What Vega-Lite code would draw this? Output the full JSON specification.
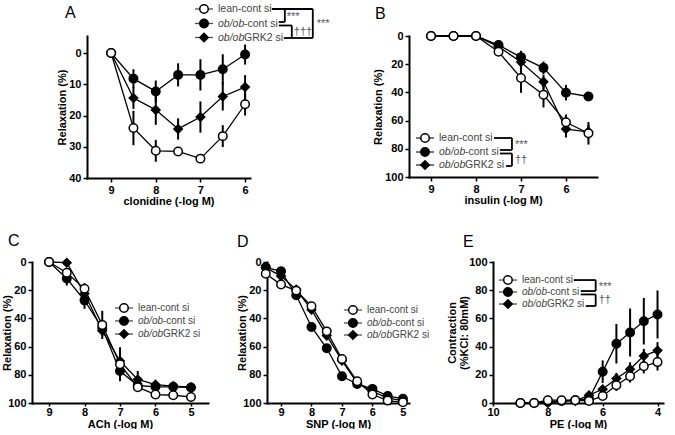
{
"$schema": "https://vega.github.io/schema/vega-lite/v6.json",
"background": "white",
"padding": {"left": 1, "top": 1, "right": 0, "bottom": 0},
"spacing": 14,
"datasets": {
"A": [
{"g":"grk","x":9,"y":0,"e":0},{"g":"grk","x":8.5,"y":14.4,"e":3.5},{"g":"grk","x":8,"y":18.2,"e":4.8},{"g":"grk","x":7.5,"y":24.3,"e":3.4},{"g":"grk","x":7,"y":20.5,"e":5},{"g":"grk","x":6.5,"y":13.9,"e":4.5},{"g":"grk","x":6,"y":10.9,"e":3.8},
{"g":"ob","x":9,"y":0,"e":0},{"g":"ob","x":8.5,"y":8.2,"e":3},{"g":"ob","x":8,"y":12.3,"e":3.5},{"g":"ob","x":7.5,"y":7,"e":3.7},{"g":"ob","x":7,"y":7,"e":5},{"g":"ob","x":6.5,"y":5.2,"e":4.8},{"g":"ob","x":6,"y":0.5,"e":3.2},
{"g":"lean","x":9,"y":0,"e":0},{"g":"lean","x":8.5,"y":24,"e":5.5},{"g":"lean","x":8,"y":31.3,"e":3.5},{"g":"lean","x":7.5,"y":31.5,"e":1},{"g":"lean","x":7,"y":33.8,"e":1},{"g":"lean","x":6.5,"y":26.6,"e":3.5},{"g":"lean","x":6,"y":16.4,"e":3.6}
],
"A_leg": [
{"g":"lean","x":6.92,"y":-14.08,"t1":"lean-cont si","t2":"","t3":""},
{"g":"ob","x":6.92,"y":-9.44,"t1":"","t2":"ob/ob","t3":"-cont si"},
{"g":"grk","x":6.92,"y":-4.96,"t1":"","t2":"ob/ob","t3":"GRK2 si"}
],
"A_br": [
{"x":5.401,"x2":4.484,"y":-14.08,"y2":-14.08},
{"x":4.484,"x2":4.484,"y":-14.08,"y2":-4.8},
{"x":5.133,"x2":4.484,"y":-4.8,"y2":-4.8},
{"x":5.110,"x2":5.110,"y":-14.08,"y2":-9.92},
{"x":5.245,"x2":5.110,"y":-9.92,"y2":-9.92},
{"x":5.245,"x2":4.954,"y":-8.8,"y2":-8.8},
{"x":4.954,"x2":4.954,"y":-8.8,"y2":-4.8}
],
"A_st": [
{"x":5.066,"y":-11.68,"t":"***"},
{"x":4.395,"y":-9.28,"t":"***"},
{"x":4.909,"y":-6.72,"t":"†††"}
],
"B": [
{"g":"grk","x":9,"y":0,"e":0},{"g":"grk","x":8.5,"y":0,"e":0},{"g":"grk","x":8,"y":0,"e":0},{"g":"grk","x":7.5,"y":7.5,"e":2},{"g":"grk","x":7,"y":18.5,"e":4},{"g":"grk","x":6.5,"y":32.5,"e":5},{"g":"grk","x":6,"y":66,"e":6},{"g":"grk","x":5.5,"y":68,"e":5},
{"g":"ob","x":9,"y":0,"e":0},{"g":"ob","x":8.5,"y":0,"e":0},{"g":"ob","x":8,"y":0,"e":0},{"g":"ob","x":7.5,"y":6.4,"e":2},{"g":"ob","x":7,"y":15,"e":4.5},{"g":"ob","x":6.5,"y":22.6,"e":4.5},{"g":"ob","x":6,"y":40.2,"e":5.5},{"g":"ob","x":5.5,"y":42.9,"e":3},
{"g":"lean","x":9,"y":0,"e":0},{"g":"lean","x":8.5,"y":0,"e":0},{"g":"lean","x":8,"y":0,"e":0},{"g":"lean","x":7.5,"y":11.2,"e":2},{"g":"lean","x":7,"y":29.8,"e":10.5},{"g":"lean","x":6.5,"y":41.7,"e":9},{"g":"lean","x":6,"y":61.2,"e":5.5},{"g":"lean","x":5.5,"y":69,"e":8}
],
"B_leg": [
{"g":"lean","x":9.134,"y":72.34,"t1":"lean-cont si","t2":"","t3":""},
{"g":"ob","x":9.134,"y":82.27,"t1":"","t2":"ob/ob","t3":"-cont si"},
{"g":"grk","x":9.134,"y":91.49,"t1":"","t2":"ob/ob","t3":"GRK2 si"}
],
"B_br": [
{"x":7.601,"x2":7.201,"y":72.34,"y2":72.34},
{"x":7.201,"x2":7.201,"y":72.34,"y2":80.85},
{"x":7.468,"x2":7.201,"y":80.85,"y2":80.85},
{"x":7.468,"x2":7.201,"y":83.33,"y2":83.33},
{"x":7.201,"x2":7.201,"y":83.33,"y2":92.2},
{"x":7.334,"x2":7.201,"y":92.2,"y2":92.2}
],
"B_st": [
{"x":7.134,"y":77.3,"t":"***"},
{"x":7.134,"y":87.94,"t":"††"}
],
"C": [
{"g":"grk","x":9,"y":0,"e":0},{"g":"grk","x":8.5,"y":0.5,"e":1},{"g":"grk","x":8,"y":22.4,"e":3},{"g":"grk","x":7.5,"y":48.7,"e":4},{"g":"grk","x":7,"y":70.2,"e":5},{"g":"grk","x":6.5,"y":83.3,"e":6},{"g":"grk","x":6,"y":87,"e":2},{"g":"grk","x":5.5,"y":88,"e":2},{"g":"grk","x":5,"y":88.8,"e":2},
{"g":"ob","x":9,"y":0,"e":0},{"g":"ob","x":8.5,"y":11.7,"e":5},{"g":"ob","x":8,"y":27.2,"e":6},{"g":"ob","x":7.5,"y":47,"e":5},{"g":"ob","x":7,"y":77.3,"e":4},{"g":"ob","x":6.5,"y":87.6,"e":3},{"g":"ob","x":6,"y":88.5,"e":2},{"g":"ob","x":5.5,"y":88.5,"e":2},{"g":"ob","x":5,"y":89,"e":2},
{"g":"lean","x":9,"y":0,"e":0},{"g":"lean","x":8.5,"y":7.6,"e":3},{"g":"lean","x":8,"y":19,"e":4},{"g":"lean","x":7.5,"y":44.6,"e":10},{"g":"lean","x":7,"y":72.5,"e":12},{"g":"lean","x":6.5,"y":88.8,"e":3},{"g":"lean","x":6,"y":94,"e":2},{"g":"lean","x":5.5,"y":94.5,"e":2},{"g":"lean","x":5,"y":95.7,"e":2}
],
"C_leg": [
{"g":"lean","x":6.888,"y":32.6,"t1":"lean-cont si","t2":"","t3":""},
{"g":"ob","x":6.888,"y":41.8,"t1":"","t2":"ob/ob","t3":"-cont si"},
{"g":"grk","x":6.888,"y":51.1,"t1":"","t2":"ob/ob","t3":"GRK2 si"}
],
"D": [
{"g":"grk","x":9.5,"y":4,"e":1},{"g":"grk","x":9,"y":10,"e":2},{"g":"grk","x":8.5,"y":19.6,"e":2},{"g":"grk","x":8,"y":33.8,"e":2},{"g":"grk","x":7.5,"y":52.2,"e":2},{"g":"grk","x":7,"y":70,"e":2},{"g":"grk","x":6.5,"y":85.8,"e":2},{"g":"grk","x":6,"y":91.7,"e":1},{"g":"grk","x":5.5,"y":96.5,"e":1},{"g":"grk","x":5,"y":98.3,"e":1},
{"g":"ob","x":9.5,"y":3.8,"e":1},{"g":"ob","x":9,"y":6.6,"e":2},{"g":"ob","x":8.5,"y":23.6,"e":2},{"g":"ob","x":8,"y":46.1,"e":2},{"g":"ob","x":7.5,"y":61.2,"e":2},{"g":"ob","x":7,"y":81,"e":2},{"g":"ob","x":6.5,"y":86.5,"e":2},{"g":"ob","x":6,"y":90,"e":1},{"g":"ob","x":5.5,"y":95,"e":1},{"g":"ob","x":5,"y":97,"e":1},
{"g":"lean","x":9.5,"y":8.3,"e":1},{"g":"lean","x":9,"y":16,"e":2},{"g":"lean","x":8.5,"y":20.3,"e":2},{"g":"lean","x":8,"y":31.4,"e":2},{"g":"lean","x":7.5,"y":49.2,"e":2},{"g":"lean","x":7,"y":68.8,"e":2},{"g":"lean","x":6.5,"y":84.6,"e":2},{"g":"lean","x":6,"y":94,"e":1},{"g":"lean","x":5.5,"y":98.3,"e":1},{"g":"lean","x":5,"y":99.5,"e":1}
],
"D_leg": [
{"g":"lean","x":6.64,"y":34.04,"t1":"lean-cont si","t2":"","t3":""},
{"g":"ob","x":6.64,"y":43.26,"t1":"","t2":"ob/ob","t3":"-cont si"},
{"g":"grk","x":6.64,"y":51.77,"t1":"","t2":"ob/ob","t3":"GRK2 si"}
],
"E": [
{"g":"grk","x":9,"y":0,"e":0},{"g":"grk","x":8.5,"y":0,"e":0},{"g":"grk","x":8,"y":0,"e":0},{"g":"grk","x":7.5,"y":1.4,"e":0.5},{"g":"grk","x":7,"y":1.5,"e":0.5},{"g":"grk","x":6.5,"y":5.5,"e":1.5},{"g":"grk","x":6,"y":9.8,"e":3},{"g":"grk","x":5.5,"y":17.4,"e":4},{"g":"grk","x":5,"y":23.9,"e":5},{"g":"grk","x":4.5,"y":33.4,"e":5},{"g":"grk","x":4,"y":37.2,"e":6},
{"g":"ob","x":9,"y":0,"e":0},{"g":"ob","x":8.5,"y":0,"e":0},{"g":"ob","x":8,"y":1,"e":0.5},{"g":"ob","x":7.5,"y":1.5,"e":0.5},{"g":"ob","x":7,"y":2,"e":0.5},{"g":"ob","x":6.5,"y":3,"e":1},{"g":"ob","x":6,"y":22.2,"e":8},{"g":"ob","x":5.5,"y":42,"e":14},{"g":"ob","x":5,"y":50,"e":17},{"g":"ob","x":4.5,"y":58,"e":16.5},{"g":"ob","x":4,"y":62.8,"e":17},
{"g":"lean","x":9,"y":0,"e":0},{"g":"lean","x":8.5,"y":0,"e":0},{"g":"lean","x":8,"y":2,"e":0.5},{"g":"lean","x":7.5,"y":2,"e":0.5},{"g":"lean","x":7,"y":2,"e":0.5},{"g":"lean","x":6.5,"y":1.4,"e":0.5},{"g":"lean","x":6,"y":5,"e":2},{"g":"lean","x":5.5,"y":12.6,"e":4},{"g":"lean","x":5,"y":19,"e":4.5},{"g":"lean","x":4.5,"y":26,"e":5},{"g":"lean","x":4,"y":29,"e":6}
],
"E_leg": [
{"g":"lean","x":9.455,"y":87.2,"t1":"lean-cont si","t2":"","t3":""},
{"g":"ob","x":9.455,"y":78.7,"t1":"","t2":"ob/ob","t3":"-cont si"},
{"g":"grk","x":9.455,"y":70.2,"t1":"","t2":"ob/ob","t3":"GRK2 si"}
],
"E_br": [
{"x":7.055,"x2":6.255,"y":87.2,"y2":87.2},
{"x":6.255,"x2":6.255,"y":87.2,"y2":79.4},
{"x":6.8,"x2":6.255,"y":79.4,"y2":79.4},
{"x":6.8,"x2":6.255,"y":77.0,"y2":77.0},
{"x":6.255,"x2":6.255,"y":77.0,"y2":68.8},
{"x":6.618,"x2":6.255,"y":68.8,"y2":68.8}
],
"E_st": [
{"x":6.145,"y":82.3,"t":"***"},
{"x":6.145,"y":73.0,"t":"††"}
]
},
"vconcat": [
{"spacing": 10, "bounds": "flush", "hconcat": [
{"width": 45, "height": 182, "data": {"values": [{}]}, "mark": {"type": "rect", "opacity": 0}},
{
"width": 163, "height": 142,
"title": {"text": "A", "anchor": "start", "frame": "group", "dx": -22, "offset": -19, "fontSize": 16, "fontWeight": "normal"},
"layer": [
{"data": {"name": "A"}, "mark": {"type": "errorbar", "color": "black", "thickness": 2},
 "encoding": {
  "x": {"field": "x", "type": "quantitative", "scale": {"domain": [5.89, 9.54], "reverse": true, "nice": false, "zero": false}, "axis": {"values": [9, 8, 7, 6], "tickCount": 20, "format": "d", "title": "clonidine (-log M)", "titlePadding": 0}},
  "y": {"field": "y", "type": "quantitative", "scale": {"domain": [-5.44, 40], "reverse": true, "nice": false, "zero": false}, "axis": {"values": [0, 10, 20, 30, 40], "tickCount": 20, "format": "d", "title": "Relaxation (%)", "titlePadding": 1}},
  "yError": {"field": "e"}}},
{"data": {"name": "A"}, "mark": {"type": "line", "color": "black", "strokeWidth": 1.3},
 "encoding": {"x": {"field": "x", "type": "quantitative"}, "y": {"field": "y", "type": "quantitative"}, "detail": {"field": "g"}}},
{"data": {"name": "A"}, "mark": {"type": "point", "filled": true, "opacity": 1, "stroke": "black", "strokeWidth": 1.5},
 "encoding": {"x": {"field": "x", "type": "quantitative"}, "y": {"field": "y", "type": "quantitative"},
  "shape": {"field": "g", "type": "nominal", "scale": {"domain": ["lean", "ob", "grk"], "range": ["circle", "circle", "diamond"]}, "legend": null},
  "fill": {"field": "g", "type": "nominal", "scale": {"domain": ["lean", "ob", "grk"], "range": ["white", "black", "black"]}, "legend": null},
  "size": {"field": "g", "type": "nominal", "scale": {"domain": ["lean", "ob", "grk"], "range": [72, 72, 55]}, "legend": null}}},
{"data": {"name": "A_leg"}, "mark": {"type": "tick", "orient": "horizontal", "size": 18, "thickness": 1.3, "color": "black"},
 "encoding": {"x": {"field": "x", "type": "quantitative"}, "y": {"field": "y", "type": "quantitative"}}},
{"data": {"name": "A_leg"}, "mark": {"type": "point", "filled": true, "opacity": 1, "stroke": "black", "strokeWidth": 1.5},
 "encoding": {"x": {"field": "x", "type": "quantitative"}, "y": {"field": "y", "type": "quantitative"},
  "shape": {"field": "g", "type": "nominal"}, "fill": {"field": "g", "type": "nominal"}, "size": {"field": "g", "type": "nominal"}}},
{"data": {"name": "A_leg"}, "mark": {"type": "text", "align": "left", "baseline": "middle", "dx": 14, "fontSize": 10.5, "font": "Liberation Sans", "color": "#444"},
 "encoding": {"x": {"field": "x", "type": "quantitative"}, "y": {"field": "y", "type": "quantitative"}, "text": {"field": "t1"}}},
{"data": {"name": "A_leg"}, "mark": {"type": "text", "align": "left", "baseline": "middle", "dx": 14, "fontSize": 10.5, "font": "Liberation Sans", "fontStyle": "italic", "color": "#444"},
 "encoding": {"x": {"field": "x", "type": "quantitative"}, "y": {"field": "y", "type": "quantitative"}, "text": {"field": "t2"}}},
{"data": {"name": "A_leg"}, "mark": {"type": "text", "align": "left", "baseline": "middle", "dx": 40, "fontSize": 10.5, "font": "Liberation Sans", "color": "#444"},
 "encoding": {"x": {"field": "x", "type": "quantitative"}, "y": {"field": "y", "type": "quantitative"}, "text": {"field": "t3"}}},
{"data": {"name": "A_br"}, "mark": {"type": "rule", "color": "black", "strokeWidth": 1.8},
 "encoding": {"x": {"field": "x", "type": "quantitative"}, "y": {"field": "y", "type": "quantitative"}, "x2": {"field": "x2"}, "y2": {"field": "y2"}}},
{"data": {"name": "A_st"}, "mark": {"type": "text", "align": "left", "baseline": "middle", "fontSize": 11, "font": "Liberation Sans", "color": "#555"},
 "encoding": {"x": {"field": "x", "type": "quantitative"}, "y": {"field": "y", "type": "quantitative"}, "text": {"field": "t"}}}
]
},
{"width": 139, "height": 142, "data": {"values": []}, "mark": "point"},
{
"width": 188, "height": 141,
"title": {"text": "B", "anchor": "start", "frame": "group", "dx": -34, "offset": 7, "fontSize": 16, "fontWeight": "normal"},
"layer": [
{"data": {"name": "B"}, "mark": {"type": "errorbar", "color": "black", "thickness": 2},
 "encoding": {
  "x": {"field": "x", "type": "quantitative", "scale": {"domain": [5.31, 9.49], "reverse": true, "nice": false, "zero": false}, "axis": {"values": [9, 8, 7, 6], "tickCount": 20, "format": "d", "title": "insulin (-log M)"}},
  "y": {"field": "y", "type": "quantitative", "scale": {"domain": [0, 100], "reverse": true, "nice": false, "zero": false}, "axis": {"values": [0, 20, 40, 60, 80, 100], "tickCount": 20, "format": "d", "title": "Relaxation (%)", "titlePadding": 1.5}},
  "yError": {"field": "e"}}},
{"data": {"name": "B"}, "mark": {"type": "line", "color": "black", "strokeWidth": 1.3},
 "encoding": {"x": {"field": "x", "type": "quantitative"}, "y": {"field": "y", "type": "quantitative"}, "detail": {"field": "g"}}},
{"data": {"name": "B"}, "mark": {"type": "point", "filled": true, "opacity": 1, "stroke": "black", "strokeWidth": 1.5},
 "encoding": {"x": {"field": "x", "type": "quantitative"}, "y": {"field": "y", "type": "quantitative"},
  "shape": {"field": "g", "type": "nominal", "scale": {"domain": ["lean", "ob", "grk"], "range": ["circle", "circle", "diamond"]}, "legend": null},
  "fill": {"field": "g", "type": "nominal", "scale": {"domain": ["lean", "ob", "grk"], "range": ["white", "black", "black"]}, "legend": null},
  "size": {"field": "g", "type": "nominal", "scale": {"domain": ["lean", "ob", "grk"], "range": [72, 72, 55]}, "legend": null}}},
{"data": {"name": "B_leg"}, "mark": {"type": "tick", "orient": "horizontal", "size": 18, "thickness": 1.3, "color": "black"},
 "encoding": {"x": {"field": "x", "type": "quantitative"}, "y": {"field": "y", "type": "quantitative"}}},
{"data": {"name": "B_leg"}, "mark": {"type": "point", "filled": true, "opacity": 1, "stroke": "black", "strokeWidth": 1.5},
 "encoding": {"x": {"field": "x", "type": "quantitative"}, "y": {"field": "y", "type": "quantitative"},
  "shape": {"field": "g", "type": "nominal"}, "fill": {"field": "g", "type": "nominal"}, "size": {"field": "g", "type": "nominal"}}},
{"data": {"name": "B_leg"}, "mark": {"type": "text", "align": "left", "baseline": "middle", "dx": 14, "fontSize": 10.5, "font": "Liberation Sans", "color": "#444"},
 "encoding": {"x": {"field": "x", "type": "quantitative"}, "y": {"field": "y", "type": "quantitative"}, "text": {"field": "t1"}}},
{"data": {"name": "B_leg"}, "mark": {"type": "text", "align": "left", "baseline": "middle", "dx": 14, "fontSize": 10.5, "font": "Liberation Sans", "fontStyle": "italic", "color": "#444"},
 "encoding": {"x": {"field": "x", "type": "quantitative"}, "y": {"field": "y", "type": "quantitative"}, "text": {"field": "t2"}}},
{"data": {"name": "B_leg"}, "mark": {"type": "text", "align": "left", "baseline": "middle", "dx": 40, "fontSize": 10.5, "font": "Liberation Sans", "color": "#444"},
 "encoding": {"x": {"field": "x", "type": "quantitative"}, "y": {"field": "y", "type": "quantitative"}, "text": {"field": "t3"}}},
{"data": {"name": "B_br"}, "mark": {"type": "rule", "color": "black", "strokeWidth": 1.8},
 "encoding": {"x": {"field": "x", "type": "quantitative"}, "y": {"field": "y", "type": "quantitative"}, "x2": {"field": "x2"}, "y2": {"field": "y2"}}},
{"data": {"name": "B_st"}, "mark": {"type": "text", "align": "left", "baseline": "middle", "fontSize": 11, "font": "Liberation Sans", "color": "#555"},
 "encoding": {"x": {"field": "x", "type": "quantitative"}, "y": {"field": "y", "type": "quantitative"}, "text": {"field": "t"}}}
]
}
]},
{"spacing": 10, "bounds": "flush", "hconcat": [
{
"width": 176, "height": 141,
"title": {"text": "C", "anchor": "start", "frame": "group", "dx": -24, "offset": 6, "fontSize": 16, "fontWeight": "normal"},
"layer": [
{"data": {"name": "C"}, "mark": {"type": "errorbar", "color": "black", "thickness": 2},
 "encoding": {
  "x": {"field": "x", "type": "quantitative", "scale": {"domain": [4.52, 9.48], "reverse": true, "nice": false, "zero": false}, "axis": {"values": [9, 8, 7, 6, 5], "tickCount": 20, "format": "d", "title": "ACh (-log M)", "tickSize": 3, "labelPadding": 0, "titlePadding": 1}},
  "y": {"field": "y", "type": "quantitative", "scale": {"domain": [0, 100], "reverse": true, "nice": false, "zero": false}, "axis": {"values": [0, 20, 40, 60, 80, 100], "tickCount": 20, "format": "d", "title": "Relaxation (%)", "titlePadding": -5}},
  "yError": {"field": "e"}}},
{"data": {"name": "C"}, "mark": {"type": "line", "color": "black", "strokeWidth": 1.3},
 "encoding": {"x": {"field": "x", "type": "quantitative"}, "y": {"field": "y", "type": "quantitative"}, "detail": {"field": "g"}}},
{"data": {"name": "C"}, "mark": {"type": "point", "filled": true, "opacity": 1, "stroke": "black", "strokeWidth": 1.5},
 "encoding": {"x": {"field": "x", "type": "quantitative"}, "y": {"field": "y", "type": "quantitative"},
  "shape": {"field": "g", "type": "nominal", "scale": {"domain": ["lean", "ob", "grk"], "range": ["circle", "circle", "diamond"]}, "legend": null},
  "fill": {"field": "g", "type": "nominal", "scale": {"domain": ["lean", "ob", "grk"], "range": ["white", "black", "black"]}, "legend": null},
  "size": {"field": "g", "type": "nominal", "scale": {"domain": ["lean", "ob", "grk"], "range": [80, 80, 60]}, "legend": null}}},
{"data": {"name": "C_leg"}, "mark": {"type": "tick", "orient": "horizontal", "size": 18, "thickness": 1.3, "color": "black"},
 "encoding": {"x": {"field": "x", "type": "quantitative"}, "y": {"field": "y", "type": "quantitative"}}},
{"data": {"name": "C_leg"}, "mark": {"type": "point", "filled": true, "opacity": 1, "stroke": "black", "strokeWidth": 1.5},
 "encoding": {"x": {"field": "x", "type": "quantitative"}, "y": {"field": "y", "type": "quantitative"},
  "shape": {"field": "g", "type": "nominal"}, "fill": {"field": "g", "type": "nominal"}, "size": {"field": "g", "type": "nominal"}}},
{"data": {"name": "C_leg"}, "mark": {"type": "text", "align": "left", "baseline": "middle", "dx": 14, "fontSize": 10, "font": "Liberation Sans", "color": "#444"},
 "encoding": {"x": {"field": "x", "type": "quantitative"}, "y": {"field": "y", "type": "quantitative"}, "text": {"field": "t1"}}},
{"data": {"name": "C_leg"}, "mark": {"type": "text", "align": "left", "baseline": "middle", "dx": 14, "fontSize": 10, "font": "Liberation Sans", "fontStyle": "italic", "color": "#444"},
 "encoding": {"x": {"field": "x", "type": "quantitative"}, "y": {"field": "y", "type": "quantitative"}, "text": {"field": "t2"}}},
{"data": {"name": "C_leg"}, "mark": {"type": "text", "align": "left", "baseline": "middle", "dx": 39, "fontSize": 10, "font": "Liberation Sans", "color": "#444"},
 "encoding": {"x": {"field": "x", "type": "quantitative"}, "y": {"field": "y", "type": "quantitative"}, "text": {"field": "t3"}}}
]
},
{"width": 39, "height": 141, "data": {"values": []}, "mark": "point"},
{
"width": 142, "height": 141,
"title": {"text": "D", "anchor": "start", "frame": "group", "dx": -30, "offset": 6, "fontSize": 16, "fontWeight": "normal"},
"layer": [
{"data": {"name": "D"}, "mark": {"type": "errorbar", "color": "black", "thickness": 2},
 "encoding": {
  "x": {"field": "x", "type": "quantitative", "scale": {"domain": [4.8, 9.46], "reverse": true, "nice": false, "zero": false}, "axis": {"values": [9, 8, 7, 6, 5], "tickCount": 20, "format": "d", "title": "SNP (-log M)", "tickSize": 3, "labelPadding": 0, "titlePadding": 1}},
  "y": {"field": "y", "type": "quantitative", "scale": {"domain": [0, 100], "reverse": true, "nice": false, "zero": false}, "axis": {"values": [0, 20, 40, 60, 80, 100], "tickCount": 20, "format": "d", "title": "Relaxation (%)", "titlePadding": -5}},
  "yError": {"field": "e"}}},
{"data": {"name": "D"}, "mark": {"type": "line", "color": "black", "strokeWidth": 1.3},
 "encoding": {"x": {"field": "x", "type": "quantitative"}, "y": {"field": "y", "type": "quantitative"}, "detail": {"field": "g"}}},
{"data": {"name": "D"}, "mark": {"type": "point", "filled": true, "opacity": 1, "stroke": "black", "strokeWidth": 1.5},
 "encoding": {"x": {"field": "x", "type": "quantitative"}, "y": {"field": "y", "type": "quantitative"},
  "shape": {"field": "g", "type": "nominal", "scale": {"domain": ["lean", "ob", "grk"], "range": ["circle", "circle", "diamond"]}, "legend": null},
  "fill": {"field": "g", "type": "nominal", "scale": {"domain": ["lean", "ob", "grk"], "range": ["white", "black", "black"]}, "legend": null},
  "size": {"field": "g", "type": "nominal", "scale": {"domain": ["lean", "ob", "grk"], "range": [80, 80, 60]}, "legend": null}}},
{"data": {"name": "D_leg"}, "mark": {"type": "tick", "orient": "horizontal", "size": 18, "thickness": 1.3, "color": "black"},
 "encoding": {"x": {"field": "x", "type": "quantitative"}, "y": {"field": "y", "type": "quantitative"}}},
{"data": {"name": "D_leg"}, "mark": {"type": "point", "filled": true, "opacity": 1, "stroke": "black", "strokeWidth": 1.5},
 "encoding": {"x": {"field": "x", "type": "quantitative"}, "y": {"field": "y", "type": "quantitative"},
  "shape": {"field": "g", "type": "nominal"}, "fill": {"field": "g", "type": "nominal"}, "size": {"field": "g", "type": "nominal"}}},
{"data": {"name": "D_leg"}, "mark": {"type": "text", "align": "left", "baseline": "middle", "dx": 14, "fontSize": 10, "font": "Liberation Sans", "color": "#444"},
 "encoding": {"x": {"field": "x", "type": "quantitative"}, "y": {"field": "y", "type": "quantitative"}, "text": {"field": "t1"}}},
{"data": {"name": "D_leg"}, "mark": {"type": "text", "align": "left", "baseline": "middle", "dx": 14, "fontSize": 10, "font": "Liberation Sans", "fontStyle": "italic", "color": "#444"},
 "encoding": {"x": {"field": "x", "type": "quantitative"}, "y": {"field": "y", "type": "quantitative"}, "text": {"field": "t2"}}},
{"data": {"name": "D_leg"}, "mark": {"type": "text", "align": "left", "baseline": "middle", "dx": 39, "fontSize": 10, "font": "Liberation Sans", "color": "#444"},
 "encoding": {"x": {"field": "x", "type": "quantitative"}, "y": {"field": "y", "type": "quantitative"}, "text": {"field": "t3"}}}
]
},
{"width": 64, "height": 141, "data": {"values": []}, "mark": "point"},
{
"width": 170, "height": 141,
"title": {"text": "E", "anchor": "start", "frame": "group", "dx": -30, "offset": 6, "fontSize": 16, "fontWeight": "normal"},
"layer": [
{"data": {"name": "E"}, "mark": {"type": "errorbar", "color": "black", "thickness": 2},
 "encoding": {
  "x": {"field": "x", "type": "quantitative", "scale": {"domain": [3.8, 10], "reverse": true, "nice": false, "zero": false}, "axis": {"values": [10, 8, 6, 4], "tickCount": 20, "format": "d", "title": "PE (-log M)", "tickSize": 3, "labelPadding": 0, "titlePadding": 1}},
  "y": {"field": "y", "type": "quantitative", "scale": {"domain": [0, 100], "nice": false, "zero": false}, "axis": {"values": [0, 20, 40, 60, 80, 100], "tickCount": 20, "format": "d", "title": ["Contraction", "(%KCl: 80mM)"], "titlePadding": -1, "titleLineHeight": 12}},
  "yError": {"field": "e"}}},
{"data": {"name": "E"}, "mark": {"type": "line", "color": "black", "strokeWidth": 1.3},
 "encoding": {"x": {"field": "x", "type": "quantitative"}, "y": {"field": "y", "type": "quantitative"}, "detail": {"field": "g"}}},
{"data": {"name": "E"}, "mark": {"type": "point", "filled": true, "opacity": 1, "stroke": "black", "strokeWidth": 1.5},
 "encoding": {"x": {"field": "x", "type": "quantitative"}, "y": {"field": "y", "type": "quantitative"},
  "shape": {"field": "g", "type": "nominal", "scale": {"domain": ["lean", "ob", "grk"], "range": ["circle", "circle", "diamond"]}, "legend": null},
  "fill": {"field": "g", "type": "nominal", "scale": {"domain": ["lean", "ob", "grk"], "range": ["white", "black", "white"]}, "legend": null},
  "size": {"field": "g", "type": "nominal", "scale": {"domain": ["lean", "ob", "grk"], "range": [80, 80, 70]}, "legend": null}}},
{"data": {"name": "E_leg"}, "mark": {"type": "tick", "orient": "horizontal", "size": 18, "thickness": 1.3, "color": "black"},
 "encoding": {"x": {"field": "x", "type": "quantitative"}, "y": {"field": "y", "type": "quantitative"}}},
{"data": {"name": "E_leg"}, "mark": {"type": "point", "filled": true, "opacity": 1, "stroke": "black", "strokeWidth": 1.5},
 "encoding": {"x": {"field": "x", "type": "quantitative"}, "y": {"field": "y", "type": "quantitative"},
  "shape": {"field": "g", "type": "nominal"}, "fill": {"field": "g", "type": "nominal"}, "size": {"field": "g", "type": "nominal"}}},
{"data": {"name": "E_leg"}, "mark": {"type": "text", "align": "left", "baseline": "middle", "dx": 14, "fontSize": 10, "font": "Liberation Sans", "color": "#444"},
 "encoding": {"x": {"field": "x", "type": "quantitative"}, "y": {"field": "y", "type": "quantitative"}, "text": {"field": "t1"}}},
{"data": {"name": "E_leg"}, "mark": {"type": "text", "align": "left", "baseline": "middle", "dx": 14, "fontSize": 10, "font": "Liberation Sans", "fontStyle": "italic", "color": "#444"},
 "encoding": {"x": {"field": "x", "type": "quantitative"}, "y": {"field": "y", "type": "quantitative"}, "text": {"field": "t2"}}},
{"data": {"name": "E_leg"}, "mark": {"type": "text", "align": "left", "baseline": "middle", "dx": 39, "fontSize": 10, "font": "Liberation Sans", "color": "#444"},
 "encoding": {"x": {"field": "x", "type": "quantitative"}, "y": {"field": "y", "type": "quantitative"}, "text": {"field": "t3"}}},
{"data": {"name": "E_br"}, "mark": {"type": "rule", "color": "black", "strokeWidth": 1.8},
 "encoding": {"x": {"field": "x", "type": "quantitative"}, "y": {"field": "y", "type": "quantitative"}, "x2": {"field": "x2"}, "y2": {"field": "y2"}}},
{"data": {"name": "E_st"}, "mark": {"type": "text", "align": "left", "baseline": "middle", "fontSize": 11, "font": "Liberation Sans", "color": "#555"},
 "encoding": {"x": {"field": "x", "type": "quantitative"}, "y": {"field": "y", "type": "quantitative"}, "text": {"field": "t"}}}
]
}
]}
],
"config": {
 "view": {"stroke": null},
 "font": "Liberation Sans",
 "axis": {"domainColor": "black", "domainWidth": 2, "domainCap": "square", "tickColor": "black", "tickWidth": 1.5, "tickSize": 4,
  "labelFont": "Liberation Sans", "labelFontSize": 11, "labelFontWeight": "bold", "labelColor": "black", "labelPadding": 2, "labelFlush": false, "labelOverlap": false,
  "titleFont": "Liberation Sans", "titleFontSize": 11, "titleFontWeight": "bold", "titleColor": "black", "titlePadding": 3, "grid": false},
 "axisX": {"titlePadding": 0},
 "title": {"font": "Liberation Sans", "color": "black"}
}
}
